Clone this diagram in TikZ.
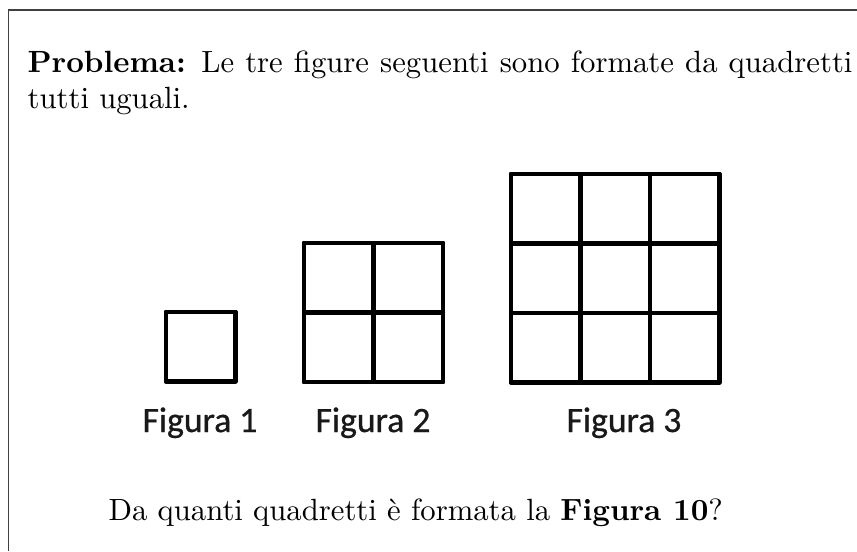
\documentclass[tikz,border=0pt]{standalone}
\usepackage{fontspec}
\newfontfamily\calibri[FakeBold=0.8]{Carlito}
\begin{document}
\begin{tikzpicture}[x=0.32573pt,y=-0.32573pt,
  gridline/.style={line width=1.35pt,line cap=round,color=black},
  figlabel/.style={anchor=base,inner sep=0pt,font=\calibri\fontsize{11.6}{13}\selectfont,text=black!90},
  bodytext/.style={anchor=base west,inner sep=0pt}]
\useasboundingbox (0,0) rectangle (857,551);
% frame
\draw[line width=0.45pt,color=black!75] (8.5,551) -- (8.5,10) -- (857,10);
% text
\node[bodytext] (l1) at (27,72) {\hbox to 268.7pt{\textbf{Problema:} Le tre figure seguenti sono formate da quadretti}};
\node[bodytext] (l2) at (27,108.7) {tutti uguali.};
% figure 1
\foreach \k in {0,1} {
  \draw[gridline] (166+\k*69.5,312) -- (166+\k*69.5,381.5);
  \draw[gridline] (166,312+\k*69.5) -- (235.5,312+\k*69.5);
}
% figure 2
\foreach \k in {0,1,2} {
  \draw[gridline] (304+\k*69.5,243) -- (304+\k*69.5,382);
  \draw[gridline] (304,243+\k*69.5) -- (443,243+\k*69.5);
}
% figure 3
\foreach \k in {0,1,2,3} {
  \draw[gridline] (511+\k*69.5,174) -- (511+\k*69.5,382.5);
  \draw[gridline] (511,174+\k*69.5) -- (719.5,174+\k*69.5);
}
\node[figlabel] (f1) at (200,432) {Figura 1};
\node[figlabel] (f2) at (373,432) {Figura 2};
\node[figlabel] (f3) at (624,432) {Figura 3};
\node[bodytext] (q) at (108,520) {Da quanti quadretti è formata la \textbf{Figura 10}?};
\end{tikzpicture}
\end{document}
